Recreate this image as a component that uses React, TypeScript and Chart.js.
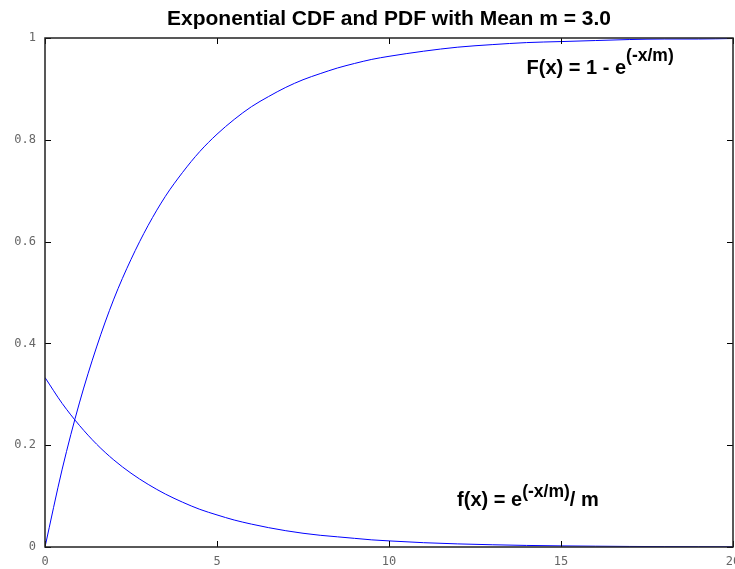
import React, { useEffect, useRef } from "react";
import { Chart, registerables } from "chart.js";

Chart.register(...registerables);

const xValues = [0, 0.5, 1, 1.5, 2, 2.5, 3, 3.5, 4, 4.5, 5, 5.5, 6, 6.5, 7, 7.5, 8, 8.5, 9, 9.5, 10, 11, 12, 13, 14, 15, 16, 17, 18, 19, 20];
const cdfValues = [0, 0.153, 0.283, 0.393, 0.487, 0.565, 0.632, 0.689, 0.736, 0.777, 0.811, 0.84, 0.865, 0.885, 0.903, 0.918, 0.93, 0.941, 0.95, 0.958, 0.964, 0.974, 0.982, 0.987, 0.991, 0.993, 0.995, 0.997, 0.998, 0.998, 0.999];
const pdfValues = [0.333, 0.282, 0.239, 0.202, 0.171, 0.145, 0.123, 0.104, 0.088, 0.074, 0.063, 0.053, 0.045, 0.038, 0.032, 0.027, 0.023, 0.02, 0.017, 0.014, 0.012, 0.0085, 0.0061, 0.0044, 0.0031, 0.0022, 0.0016, 0.0011, 0.0008, 0.0006, 0.0004];
const xTicks = [0, 5, 10, 15, 20];
const yTicks = [0, 0.2, 0.4, 0.6, 0.8, 1];
const titleText = "Exponential CDF and PDF with Mean m = 3.0";

const TITLE_FONT = "bold 21px 'Liberation Sans', Arial, sans-serif";
const MAIN_FONT = "bold 20px 'Liberation Sans', Arial, sans-serif";
const SUP_FONT = "bold 17.5px 'Liberation Sans', Arial, sans-serif";

const framePlugin = {
  id: "frameTicks",
  afterDatasetsDraw(chart: any) {
    const { ctx, chartArea, scales } = chart;
    const { left, right, top, bottom } = chartArea;
    ctx.save();
    ctx.strokeStyle = "#000";
    ctx.lineWidth = 1;
    const L = 6;
    ctx.beginPath();
    for (const v of xTicks) {
      const px = Math.round(scales.x.getPixelForValue(v)) + 0.5;
      ctx.moveTo(px, bottom); ctx.lineTo(px, bottom - L);
      ctx.moveTo(px, top); ctx.lineTo(px, top + L);
    }
    for (const v of yTicks) {
      const py = Math.round(scales.y.getPixelForValue(v)) + 0.5;
      ctx.moveTo(left, py); ctx.lineTo(left + L, py);
      ctx.moveTo(right, py); ctx.lineTo(right - L, py);
    }
    ctx.stroke();
    ctx.strokeStyle = "#222";
    ctx.lineWidth = 1.5;
    ctx.strokeRect(left, top, right - left, bottom - top);
    // title
    ctx.fillStyle = "#000";
    ctx.font = TITLE_FONT;
    ctx.textAlign = "center";
    ctx.textBaseline = "alphabetic";
    ctx.fillText(titleText, (left + right) / 2, 25);
    // annotations
    const drawFormula = (parts: { t: string; sup?: boolean }[], x: number, y: number, supRaise: number) => {
      let cx = x;
      ctx.textAlign = "left";
      for (const p of parts) {
        ctx.font = p.sup ? SUP_FONT : MAIN_FONT;
        ctx.fillText(p.t, cx, p.sup ? y - supRaise : y);
        cx += ctx.measureText(p.t).width;
      }
    };
    drawFormula([{ t: "F(x) = 1 - e" }, { t: "(-x/m)", sup: true }], scales.x.getPixelForValue(14), scales.y.getPixelForValue(0.929), 13);
    drawFormula([{ t: "f(x) = e" }, { t: "(-x/m)", sup: true }, { t: "/ m" }], scales.x.getPixelForValue(11.98), scales.y.getPixelForValue(0.0806), 9);
    ctx.restore();
  },
};

export default function App() {
  const ref = useRef<HTMLCanvasElement | null>(null);
  useEffect(() => {
    if (!ref.current) return;
    const chart = new Chart(ref.current, {
      type: "line",
      data: {
        datasets: [
          {
            data: xValues.map((x, i) => ({ x, y: cdfValues[i] })),
            borderColor: "#0000ff",
            borderWidth: 1,
            pointRadius: 0,
            cubicInterpolationMode: "monotone",
            fill: false,
          },
          {
            data: xValues.map((x, i) => ({ x, y: pdfValues[i] })),
            borderColor: "#0000ff",
            borderWidth: 1,
            pointRadius: 0,
            cubicInterpolationMode: "monotone",
            fill: false,
          },
        ],
      },
      options: {
        animation: false,
        responsive: false,
        maintainAspectRatio: false,
        layout: { padding: { top: 38, right: 2, left: 0, bottom: 0 } },
        plugins: { legend: { display: false }, title: { display: false }, tooltip: { enabled: false } },
        scales: {
          x: {
            type: "linear",
            min: 0,
            max: 20,
            grid: { display: false, drawTicks: false },
            border: { display: false },
            afterBuildTicks: (s: any) => { s.ticks = xTicks.map((v) => ({ value: v })); },
            afterFit: (s: any) => { s.height = 22; s.paddingLeft = 0; s.paddingRight = 0; },
            ticks: {
              padding: 8,
              maxRotation: 0,
              autoSkip: false,
              color: "#666",
              font: { family: "'DejaVu Sans Mono', monospace", size: 12 },
              callback: (v: any) => String(v),
            },
          },
          y: {
            type: "linear",
            min: 0,
            max: 1,
            grid: { display: false, drawTicks: false },
            border: { display: false },
            afterBuildTicks: (s: any) => { s.ticks = yTicks.map((v) => ({ value: v })); },
            afterFit: (s: any) => { s.width = 45; s.paddingTop = 0; s.paddingBottom = 0; },
            ticks: {
              padding: 9,
              color: "#666",
              font: { family: "'DejaVu Sans Mono', monospace", size: 12 },
              callback: (v: any) => String(v),
            },
          },
        },
      },
      plugins: [framePlugin],
    } as any);
    return () => chart.destroy();
  }, []);
  return (
    <div style={{ position: "absolute", left: 0, top: 0, width: 735, height: 569, background: "#fff" }}>
      <canvas ref={ref} width={735} height={569} style={{ width: 735, height: 569 }} />
    </div>
  );
}
